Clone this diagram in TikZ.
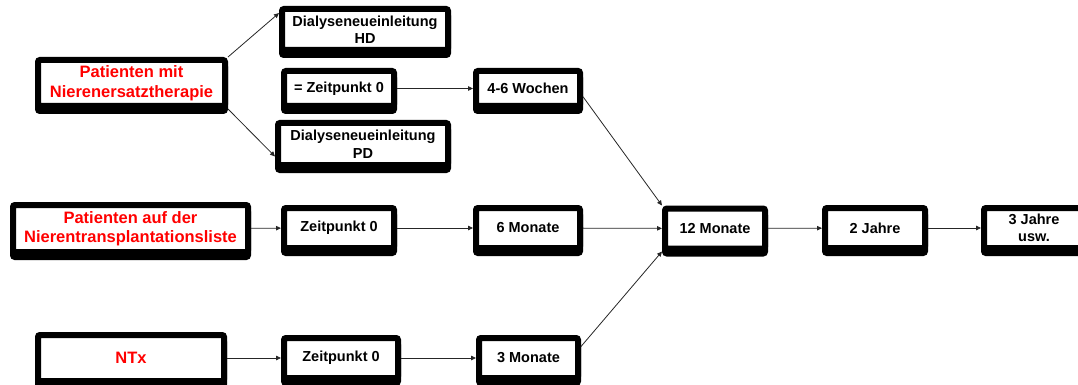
\documentclass[tikz,border=0pt]{standalone}
\usepackage{fontspec}
\setmainfont{Liberation Sans}
\usepackage{xcolor}
\usepackage{tikz}
\usetikzlibrary{arrows.meta,positioning,calc}

\begin{document}
\begin{tikzpicture}[
  x=1pt, y=-1pt,
  box/.style={draw, line width=6pt, rounded corners=2pt, fill=white, align=center,
    inner sep=0pt, minimum height=40pt, font=\bfseries\fontsize{14.5}{17.5}\selectfont,
    preaction={draw, line width=6pt, transform canvas={yshift=-5pt}}},
  title/.style={text=red, font=\bfseries\fontsize{16.5}{19.5}\selectfont},
  arrow/.style={-{Triangle[length=5pt,width=4.5pt]}, line width=0.8pt, draw=black!85}
]
\useasboundingbox (0,0) rectangle (1078,385);

% PATIENTENGRUPPEN
\node[box, title, minimum width=187pt, minimum height=46pt] (pmit) at (131.5,83) {Patienten mit\\Nierenersatztherapie};
\node[box, title, minimum width=235pt, minimum height=47pt] (pliste) at (130.5,228.5) {Patienten auf der\\Nierentransplantationsliste};
\node[box, title, minimum width=186pt, minimum height=46pt] (ntx) at (131,358) {NTx};

% DIALYSE
\node[box, minimum width=166pt, minimum height=41pt] (hd) at (365,29.5) {Dialyseneueinleitung\\HD};
\node[box, minimum width=110pt, minimum height=35pt] (zta) at (339,88.5) {= Zeitpunkt 0};
\node[box, minimum width=170pt, minimum height=42pt] (pd) at (363,144) {Dialyseneueinleitung\\PD};
\node[box, minimum width=104pt, minimum height=35pt] (w46) at (528,88.5) {4-6 Wochen};

% ZEITPUNKTE
\node[box, minimum width=110pt] (ztb) at (339,228) {Zeitpunkt 0};
\node[box, minimum width=114pt] (ztc) at (341,358) {Zeitpunkt 0};
\node[box, minimum width=104pt] (m6) at (528,228) {6 Monate};
\node[box, minimum width=99pt] (m3) at (528.5,358) {3 Monate};
\node[box, minimum width=100pt] (m12) at (715,228.5) {12 Monate};
\node[box, minimum width=100pt] (j2) at (875,228) {2 Jahre};
\node[box, minimum width=100pt] (j3) at (1034,228) {3 Jahre\\usw.};

\draw[arrow] (pmit.north east) -- ($(hd.north west)!0.15!(hd.south west)$);
\draw[arrow] (pmit.south east) -- ($(pd.north west)!0.76!(pd.south west)$);
\draw[arrow] (zta) -- (w46);
\draw[arrow] ($(w46.north east)!0.7!(w46.south east)$) -- (m12.north west);

\draw[arrow] (pliste) -- (ztb);
\draw[arrow] (ztb) -- (m6);
\draw[arrow] (m6) -- (m12);
\draw[arrow] (m12) -- (j2);
\draw[arrow] (j2) -- (j3);

\draw[arrow] (ntx) -- (ztc);
\draw[arrow] (ztc) -- (m3);
\draw[arrow] ($(m3.north east)!0.25!(m3.south east)$) -- (m12.south west);

\end{tikzpicture}
\end{document}
